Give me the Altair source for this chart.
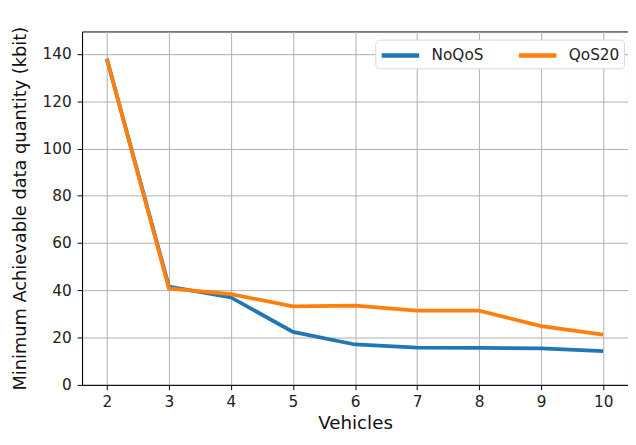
import altair as alt
import pandas as pd

vehicles = [2, 3, 4, 5, 6, 7, 8, 9, 10]
noqos = [138.0, 41.6, 37.0, 22.4, 17.1, 15.8, 15.7, 15.4, 14.3]
qos20 = [138.0, 40.8, 38.4, 33.2, 33.5, 31.4, 31.4, 24.9, 21.3]
series_names = ["NoQoS", "QoS20"]
colors = ["#1f77b4", "#ff7f0e"]

df = pd.DataFrame({
    "Vehicles": vehicles * 2,
    "value": noqos + qos20,
    "series": [series_names[0]] * len(vehicles) + [series_names[1]] * len(vehicles),
})

font = "DejaVu Sans"

chart = alt.Chart(df).mark_line(strokeWidth=3.8, clip=True).encode(
    x=alt.X("Vehicles:Q",
            scale=alt.Scale(domain=[1.6, 10.4], nice=False, zero=False),
            axis=alt.Axis(values=vehicles, title="Vehicles", titleFontSize=18.5,
                          titleFontWeight="normal", titlePadding=4,
                          labelFontSize=15.5, tickSize=5, labelPadding=5)),
    y=alt.Y("value:Q",
            scale=alt.Scale(domain=[0, 149.5], nice=False),
            axis=alt.Axis(values=[0, 20, 40, 60, 80, 100, 120, 140],
                          title="Minimum Achievable data quantity (kbit)",
                          titleFontSize=18, titleFontWeight="normal", titlePadding=13,
                          labelFontSize=15.5, tickSize=5, labelPadding=6)),
    color=alt.Color("series:N",
                    scale=alt.Scale(domain=series_names, range=colors),
                    legend=alt.Legend(title=None, orient="none", legendX=297, legendY=8.3,
                                      direction="horizontal", columns=2,
                                      symbolType="M -1 0 L 3 0", symbolStrokeWidth=4.5,
                                      symbolSize=361, labelFontSize=15.5,
                                      labelOffset=29, columnPadding=26, padding=4,
                                      fillColor="white", strokeColor="#d8d8d8",
                                      cornerRadius=4, labelLimit=200)),
).properties(
    width=553, height=358,
    padding={"left": 75, "top": 21, "right": 0, "bottom": 50},
    autosize=alt.AutoSizeParams(type="none"),
).configure(
    font=font,
).configure_axis(
    grid=True, gridColor="#b0b0b0", gridWidth=1, domainColor="black",
    tickColor="black", labelColor="#222222", titleColor="#111111",
    labelFont=font, titleFont=font,
).configure_view(
    stroke="black", strokeWidth=1,
).configure_legend(
    labelFont=font, labelColor="#222222",
)

chart.save("out.html", embed_options={"renderer": "svg", "actions": False})
